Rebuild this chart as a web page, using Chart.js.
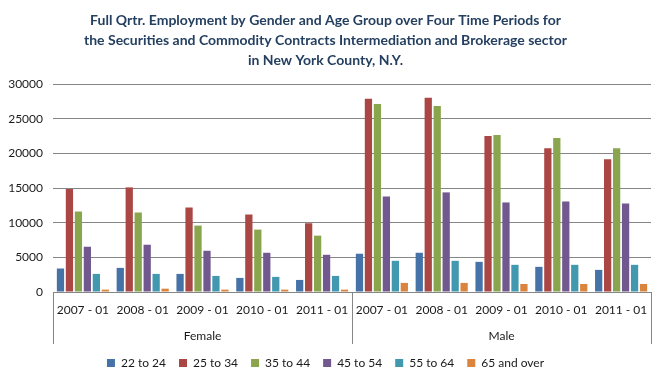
<!DOCTYPE html>
<html>
<head>
<meta charset="utf-8">
<script src="https://cdn.jsdelivr.net/npm/chart.js@4"></script>
<style>
  html, body { margin: 0; padding: 0; background: #fff; }
  #wrap { width: 665px; height: 380px; position: relative; }
</style>
</head>
<body>
<div id="wrap"><canvas id="c" width="665" height="380"></canvas></div>
<script>
// ---- data ----
const titleLines = [
  'Full Qrtr. Employment by Gender and Age Group over Four Time Periods for',
  'the Securities and Commodity Contracts Intermediation and Brokerage sector',
  'in New York County, N.Y.'
];
const periods = ['2007 - 01', '2008 - 01', '2009 - 01', '2010 - 01', '2011 - 01'];
const genders = ['Female', 'Male'];
const ageGroups = ['22 to 24', '25 to 34', '35 to 44', '45 to 54', '55 to 64', '65 and over'];
const yTicks = [0, 5000, 10000, 15000, 20000, 25000, 30000];

// values: Female 2007..2011, then Male 2007..2011
const age22to24 = [3390, 3480, 2610, 2030, 1740, 5520, 5660, 4350, 3630, 3190];
const age25to34 = [14850, 15090, 12190, 11180, 9920, 27870, 28010, 22500, 20750, 19160];
const age35to44 = [11610, 11470, 9580, 9000, 8130, 27140, 26850, 22640, 22210, 20750];
const age45to54 = [6530, 6820, 5950, 5660, 5370, 13790, 14370, 12920, 13060, 12770];
const age55to64 = [2610, 2610, 2320, 2180, 2320, 4500, 4500, 3920, 3920, 3920];
const age65over = [340, 480, 340, 340, 340, 1310, 1310, 1160, 1160, 1160];

const seriesValues = [age22to24, age25to34, age35to44, age45to54, age55to64, age65over];
const colors = ['#4572A7', '#AA4643', '#89A54E', '#71588F', '#4198AF', '#DB843D'];

const labels = [];
genders.forEach(g => periods.forEach(p => labels.push(p)));

const FONT = 'Lato, "Liberation Sans", sans-serif';
const gridColor = '#868686';

const groupLines = {
  id: 'groupLines',
  afterDraw(chart) {
    const ctx = chart.ctx;
    const x = chart.scales.x;
    const x2 = chart.scales.x2;
    const area = chart.chartArea;
    const n = periods.length;
    const xs = [area.left];
    for (let g = 1; g < genders.length; g++) {
      xs.push((x.getPixelForTick(g * n - 1) + x.getPixelForTick(g * n)) / 2);
    }
    xs.push(area.right);
    ctx.save();
    ctx.strokeStyle = gridColor;
    ctx.lineWidth = 1;
    xs.forEach(px => {
      const p = Math.round(px) + 0.5;
      ctx.beginPath();
      ctx.moveTo(p, area.bottom);
      ctx.lineTo(p, x2.bottom);
      ctx.stroke();
    });
    ctx.restore();
  }
};

new Chart(document.getElementById('c'), {
  type: 'bar',
  data: {
    labels: labels,
    datasets: ageGroups.map((name, i) => ({
      label: name,
      data: seriesValues[i],
      backgroundColor: colors[i],
      borderWidth: 0,
      categoryPercentage: 0.9,
      barPercentage: 0.81
    }))
  },
  options: {
    responsive: false,
    animation: false,
    devicePixelRatio: 1,
    layout: { padding: { left: 0, right: 14, top: 0, bottom: 1 } },
    plugins: {
      title: {
        display: true,
        text: titleLines,
        color: '#243F60',
        font: { family: FONT, size: 14, weight: 'bold', lineHeight: 1.43 },
        padding: { top: 10, bottom: 14 }
      },
      legend: {
        position: 'bottom',
        labels: {
          boxWidth: 8,
          boxHeight: 8,
          padding: 13,
          color: '#1a1a1a',
          font: { family: FONT, size: 12 }
        }
      },
      tooltip: { enabled: false }
    },
    scales: {
      x: {
        type: 'category',
        position: 'bottom',
        grid: { display: false, drawTicks: false },
        border: { display: false },
        ticks: {
          color: '#1a1a1a',
          font: { family: FONT, size: 12 },
          padding: 11,
          maxRotation: 0,
          autoSkip: false
        },
        afterFit(s) { s.height = 24; }
      },
      x2: {
        type: 'category',
        position: 'bottom',
        labels: genders,
        offset: true,
        grid: { display: false, drawTicks: false },
        border: { display: false },
        ticks: {
          color: '#1a1a1a',
          font: { family: FONT, size: 12 },
          padding: 13,
          maxRotation: 0
        },
        afterFit(s) { s.height = 28; }
      },
      y: {
        min: 0,
        max: 30000,
        afterBuildTicks(s) { s.ticks = yTicks.map(v => ({ value: v })); },
        grid: { color: gridColor, lineWidth: 1, drawTicks: false },
        border: { display: false },
        ticks: {
          color: '#1a1a1a',
          font: { family: FONT, size: 12 },
          padding: 10,
          callback: v => String(v)
        },
        afterFit(s) { s.width = 53; }
      }
    }
  },
  plugins: [groupLines]
});
</script>
</body>
</html>
